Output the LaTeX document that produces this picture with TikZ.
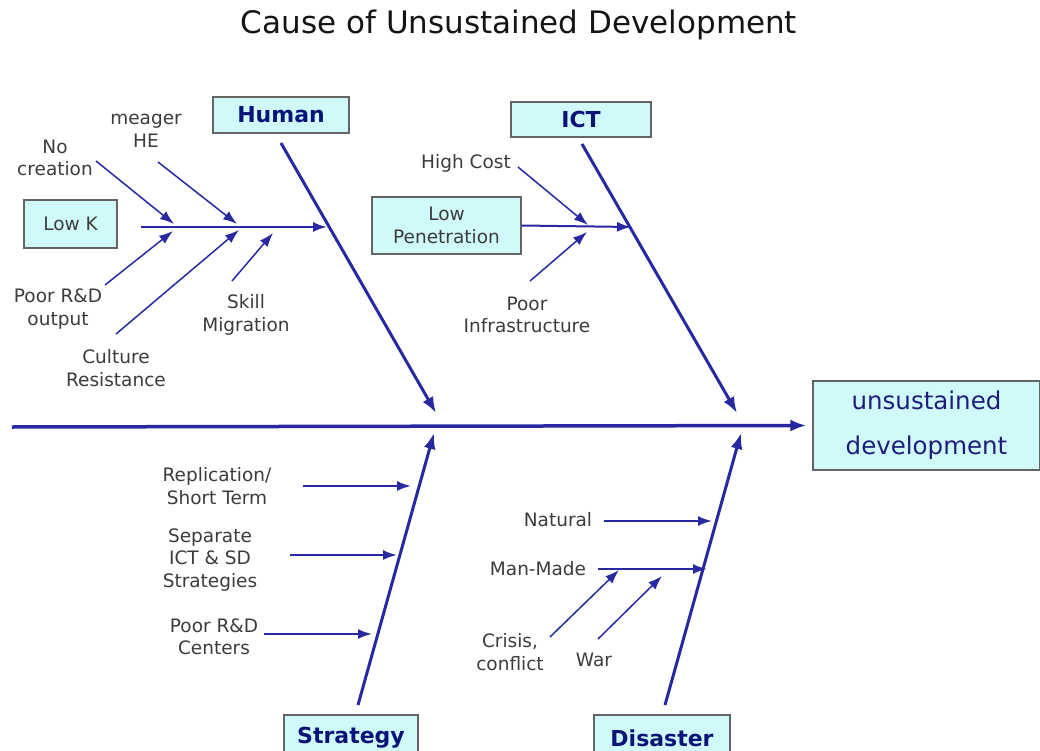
\documentclass[tikz,border=0pt]{standalone}
\usepackage{fontspec}
\setmainfont{DejaVu Sans}
\usetikzlibrary{arrows.meta}
\definecolor{bone}{RGB}{40,40,160}
\definecolor{boxfill}{RGB}{208,250,250}
\definecolor{boxline}{RGB}{100,100,100}
\definecolor{labtext}{RGB}{60,60,60}
\definecolor{headtext}{RGB}{10,20,120}
\begin{document}
\begin{tikzpicture}[x=1pt,y=-1pt,
 catbox/.style={draw=boxline,fill=boxfill,line width=1.2pt,inner sep=0pt,font=\fontsize{22}{24}\selectfont\bfseries,text=headtext},
 subbox/.style={draw=boxline,fill=boxfill,line width=1.2pt,inner sep=0pt,font=\fontsize{18.5}{23}\selectfont,text=labtext,align=center},
 lab/.style={font=\fontsize{18.5}{22.5}\selectfont,text=labtext,align=center,inner sep=0pt},
 bonemain/.style={draw=bone,line width=3pt,-{Latex[length=16pt,width=12pt]}},
 subarrow/.style={draw=bone,line width=2pt,-{Latex[length=14pt,width=10pt]}},
 thinarrow/.style={draw=bone,line width=1.5pt,-{Latex[length=14pt,width=10pt]}},
]
\useasboundingbox (0,0) rectangle (1040,751);

% title
\node[font=\fontsize{31}{34}\selectfont,text={rgb,255:red,20;green,20;blue,20}] (title) at (519,25) {Cause of Unsustained Development};

% effect box
\node[draw=boxline,fill=boxfill,line width=1.2pt,minimum width=227pt,minimum height=89pt,inner sep=0pt,
      font=\fontsize{24.5}{45}\selectfont,text={rgb,255:red,30;green,30;blue,120},align=center] (effect) at (926.5,425.5) {unsustained\\development};

% category boxes
\node[catbox,minimum width=136pt,minimum height=36pt] (human) at (281,115) {Human};
\node[catbox,minimum width=140pt,minimum height=35pt] (ict) at (581,119.5) {ICT};
\node[catbox,minimum width=134pt,minimum height=46pt] (strategy) at (351,738) {Strategy};
\node[catbox,minimum width=136pt,minimum height=46pt] (disaster) at (662,738) {Disaster};

% spine
\coordinate (spine0) at (12,427);
\draw[bonemain,line width=3.5pt] (spine0) -- ([xshift=-6pt]effect.west);

% main bones
\coordinate (hb0) at (281,143); \coordinate (hb1) at (436,413);
\coordinate (ib0) at (582,144); \coordinate (ib1) at (737,413);
\coordinate (sb0) at (358,705); \coordinate (sb1) at (434,433);
\coordinate (db0) at (665,705); \coordinate (db1) at (741,433);
\draw[bonemain] (hb0) -- (hb1);
\draw[bonemain] (ib0) -- (ib1);
\draw[bonemain] (sb0) -- (sb1);
\draw[bonemain] (db0) -- (db1);

% Human group
\node[subbox,minimum width=93pt,minimum height=48pt] (lowk) at (70.5,224) {Low K};
\node[lab] (nocreation) at (55,158) {No\\creation};
\node[lab] (meager) at (146,131) {meager\\HE};
\node[lab] (poorrd) at (58,309) {Poor R\&D\\output};
\node[lab] (culture) at (116,368) {Culture\\Resistance};
\node[lab] (skill) at (246,315) {Skill\\Migration};
\coordinate (hk0) at (141,227); \coordinate (hk1) at (327,227);
\coordinate (hj1) at (174,224); \coordinate (hj2) at (237,224);
\coordinate (hj3) at (173,231); \coordinate (hj4) at (239,230); \coordinate (hj5) at (273,233);
\coordinate (nc0) at (96,161); \coordinate (mg0) at (158,162);
\coordinate (pr0) at (105,285); \coordinate (cr0) at (116,334); \coordinate (sm0) at (232,281);
\draw[subarrow] (hk0) -- (hk1);
\draw[thinarrow] (nc0) -- (hj1);
\draw[thinarrow] (mg0) -- (hj2);
\draw[thinarrow] (pr0) -- (hj3);
\draw[thinarrow] (cr0) -- (hj4);
\draw[thinarrow] (sm0) -- (hj5);

% ICT group
\node[subbox,minimum width=149pt,minimum height=57pt] (lowpen) at (446.5,225.5) {Low\\Penetration};
\node[lab] (highcost) at (466,163) {High Cost};
\node[lab] (poorinfra) at (527,315) {Poor\\Infrastructure};
\coordinate (ij0) at (631,227);
\coordinate (ij1) at (588,225); \coordinate (ij2) at (587,232);
\coordinate (hc0) at (518,167); \coordinate (pi0) at (530,281);
\draw[subarrow] (lowpen.east) -- (ij0);
\draw[thinarrow] (hc0) -- (ij1);
\draw[thinarrow] (pi0) -- (ij2);

% Strategy group
\node[lab] (replic) at (217,486) {Replication/\\Short Term};
\node[lab] (separate) at (210,560) {Separate\\ICT \& SD\\Strategies};
\node[lab] (poorcent) at (214,637) {Poor R\&D\\Centers};
\coordinate (s10) at (303,486); \coordinate (s11) at (411,486);
\coordinate (s20) at (290,555); \coordinate (s21) at (397,555);
\coordinate (s30) at (264,634); \coordinate (s31) at (372,634);
\draw[subarrow] (s10) -- (s11);
\draw[subarrow] (s20) -- (s21);
\draw[subarrow] (s30) -- (s31);

% Disaster group
\node[lab] (natural) at (558,520) {Natural};
\node[lab] (manmade) at (538,569) {Man-Made};
\node[lab] (crisis) at (510,652) {Crisis,\\conflict};
\node[lab] (war) at (594,660) {War};
\coordinate (d10) at (604,521); \coordinate (d11) at (712,521);
\coordinate (d20) at (598,569); \coordinate (d21) at (707,569);
\coordinate (c0) at (550,637); \coordinate (c1) at (619,570);
\coordinate (w0) at (598,639); \coordinate (w1) at (662,576);
\draw[subarrow] (d10) -- (d11);
\draw[subarrow] (d20) -- (d21);
\draw[thinarrow] (c0) -- (c1);
\draw[thinarrow] (w0) -- (w1);
\end{tikzpicture}
\end{document}
